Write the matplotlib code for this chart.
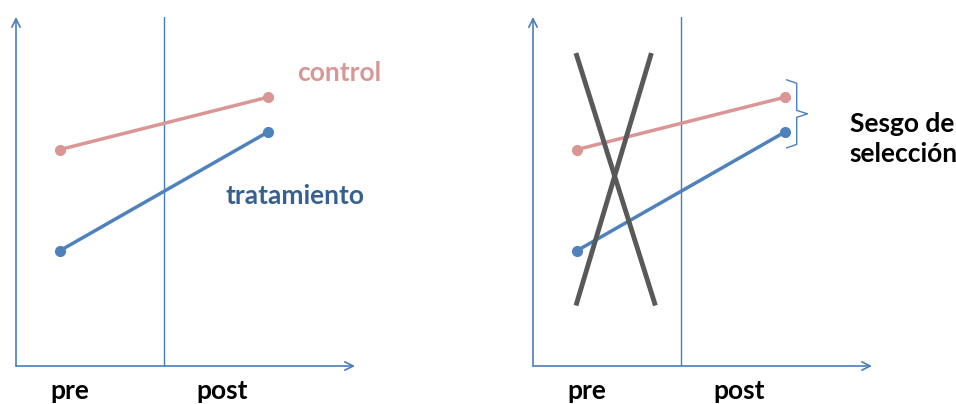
import matplotlib.pyplot as plt
from matplotlib.patches import FancyArrowPatch

# ---------------------------------------------------------------
# data: pre / post outcomes for each group
# ---------------------------------------------------------------
periods = [0, 1]              # pre, post
period_labels = ['pre', 'post']
label_pos = [0.05, 0.78]      # where the period labels sit under the axis
control = [6.2, 7.7]
treatment = [3.3, 6.7]

# the crossed-out "X" on the right panel (two strokes)
cross_a_x = [0.0, 0.375]
cross_a_y = [8.9, 1.8]
cross_b_x = [0.356, 0.0]
cross_b_y = [8.9, 1.8]

AXIS_BLUE = '#4a7ebb'
CTRL_COL = '#d99694'
TREAT_COL = '#4f81bd'
TREAT_TXT = '#376092'

plt.rcParams['font.family'] = ['Lato', 'DejaVu Sans']
FS = 19

fig = plt.figure(figsize=(9.56, 4.04), dpi=100)
ax_l = fig.add_axes([16 / 956, 38 / 404, 339 / 956, 349 / 404])
ax_r = fig.add_axes([533 / 956, 38 / 404, 339 / 956, 349 / 404])

XMIN, XMAX = -0.21, 1.42
YMIN, YMAX = 0, 10


def setup(ax):
    ax.set_xlim(XMIN, XMAX)
    ax.set_ylim(YMIN, YMAX)
    ax.axis('off')
    # axes drawn as open arrows
    ax.add_patch(FancyArrowPatch((XMIN, 0), (XMAX, 0), arrowstyle='->,head_length=6,head_width=3',
                                 color=AXIS_BLUE, lw=1.2, shrinkA=0, shrinkB=0, clip_on=False))
    ax.add_patch(FancyArrowPatch((XMIN, 0), (XMIN, YMAX), arrowstyle='->,head_length=6,head_width=3',
                                 color=AXIS_BLUE, lw=1.2, shrinkA=0, shrinkB=0, clip_on=False))
    # divider between pre and post
    ax.plot([0.5, 0.5], [0, YMAX], color=AXIS_BLUE, lw=1.0)
    ax.plot(periods, control, color=CTRL_COL, lw=2.5, marker='o', ms=7, solid_capstyle='round')
    ax.plot(periods, treatment, color=TREAT_COL, lw=2.5, marker='o', ms=7, solid_capstyle='round')
    for p, lab in zip(label_pos, period_labels):
        ax.text(p, -0.72, lab, ha='center', va='center', fontsize=FS, fontweight='bold',
                color='black', clip_on=False)


setup(ax_l)
setup(ax_r)

# left panel labels
ax_l.text(1.346, 8.4, 'control', ha='center', va='center', fontsize=FS, fontweight='bold', color=CTRL_COL)
ax_l.text(1.13, 4.87, 'tratamiento', ha='center', va='center', fontsize=FS, fontweight='bold', color=TREAT_TXT)

# right panel: crossed out + brace
ax_r.plot(cross_a_x, cross_a_y, color='#595959', lw=3.5)
ax_r.plot(cross_b_x, cross_b_y, color='#595959', lw=3.5)

top = control[1] + 0.5
bot = treatment[1] - 0.45
mid = (top + bot) / 2
bx0, bx1, bx2 = 1.01, 1.058, 1.11
ax_r.plot([bx0, bx1, bx1, bx2, bx1, bx1, bx0],
          [top, top - 0.1, mid + 0.1, mid, mid - 0.1, bot + 0.1, bot],
          color=AXIS_BLUE, lw=1.0, clip_on=False)

ax_r.text(1.3125, mid - 0.73, 'Sesgo de\nselección', ha='left', va='center', fontsize=FS,
          fontweight='bold', color='black', linespacing=1.3, clip_on=False)

fig.savefig('out.png', dpi=100)
